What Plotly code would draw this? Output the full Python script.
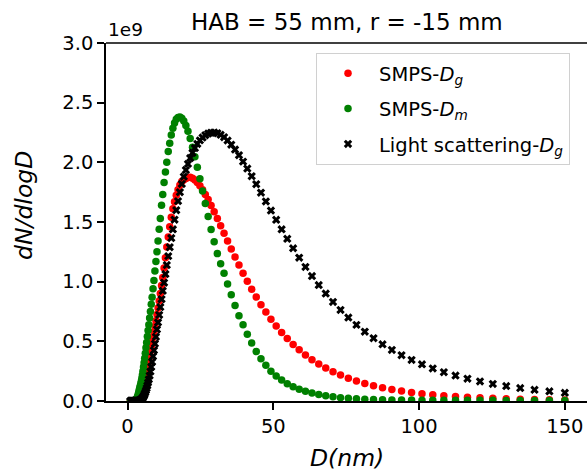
import plotly.graph_objects as go

# Particle diameter bins (nm), SMPS 64 channels/decade
D_NM = [1.01, 1.047, 1.086, 1.125, 1.167, 1.209, 1.254, 1.300, 1.347, 1.397,
        1.448, 1.501, 1.556, 1.613, 1.672, 1.733, 1.796, 1.862, 1.930, 2.001,
        2.074, 2.150, 2.229, 2.311, 2.395, 2.483, 2.574, 2.668, 2.766, 2.867,
        2.972, 3.081, 3.194, 3.311, 3.432, 3.558, 3.688, 3.823, 3.963, 4.109,
        4.259, 4.415, 4.577, 4.745, 4.919, 5.098, 5.285, 5.479, 5.679, 5.887,
        6.103, 6.327, 6.559, 6.799, 7.048, 7.306, 7.574, 7.852, 8.139, 8.438,
        8.747, 9.067, 9.399, 9.743, 10.10, 10.47, 10.86, 11.25, 11.67, 12.09,
        12.54, 13.00, 13.47, 13.97, 14.48, 15.01, 15.56, 16.13, 16.72, 17.33,
        17.96, 18.62, 19.30, 20.01, 20.74, 21.50, 22.29, 23.11, 23.95, 24.83,
        25.74, 26.68, 27.66, 28.67, 29.72, 30.81, 31.94, 33.11, 34.32, 35.58,
        36.88, 38.23, 39.63, 41.09, 42.59, 44.15, 45.77, 47.45, 49.19, 50.99,
        52.86, 54.79, 56.80, 58.88, 61.03, 63.27, 65.59, 67.99, 70.48, 73.06,
        75.74, 78.52, 81.39, 84.38, 87.47, 90.67, 93.99, 97.43, 101.0, 104.7,
        108.5, 112.5, 116.6, 120.9, 125.3, 129.9, 134.7, 139.6, 144.7, 150.0]

# dN/dlogD values in units of 1e9
SMPS_DG = [0, 0, 0, 0, 0, 0, 0, 0, 0, 0,
           0, 0, 0, 0, 0, 0, 0, 0, 0, 0,
           0, 0, 0, 0, 0, 0, 0, 0.001, 0.002, 0.003,
           0.004, 0.006, 0.009, 0.012, 0.015, 0.021, 0.028, 0.034, 0.039, 0.046,
           0.055, 0.065, 0.076, 0.090, 0.104, 0.119, 0.136, 0.153, 0.171, 0.190,
           0.211, 0.236, 0.262, 0.288, 0.317, 0.350, 0.384, 0.420, 0.458, 0.497,
           0.537, 0.579, 0.626, 0.673, 0.725, 0.780, 0.839, 0.900, 0.967, 1.035,
           1.115, 1.200, 1.290, 1.375, 1.460, 1.540, 1.610, 1.670, 1.725, 1.770,
           1.810, 1.840, 1.855, 1.865, 1.872, 1.874, 1.866, 1.851, 1.830, 1.803,
           1.770, 1.731, 1.688, 1.639, 1.586, 1.529, 1.469, 1.406, 1.341, 1.274,
           1.207, 1.139, 1.071, 1.003, 0.936, 0.871, 0.807, 0.745, 0.686, 0.629,
           0.574, 0.523, 0.474, 0.429, 0.386, 0.346, 0.310, 0.276, 0.245, 0.217,
           0.191, 0.168, 0.147, 0.128, 0.111, 0.096, 0.083, 0.071, 0.061, 0.052,
           0.044, 0.037, 0.032, 0.027, 0.022, 0.019, 0.015, 0.013, 0.011, 0.009]

SMPS_DM = [0, 0, 0, 0, 0, 0, 0, 0, 0, 0,
           0, 0, 0, 0, 0, 0, 0, 0, 0, 0,
           0, 0, 0, 0, 0, 0, 0.001, 0.003, 0.005, 0.007,
           0.010, 0.015, 0.020, 0.027, 0.034, 0.045, 0.057, 0.070, 0.085, 0.100,
           0.115, 0.130, 0.147, 0.166, 0.190, 0.218, 0.250, 0.284, 0.320, 0.358,
           0.400, 0.446, 0.490, 0.540, 0.590, 0.640, 0.695, 0.750, 0.810, 0.870,
           0.940, 1.010, 1.090, 1.170, 1.250, 1.340, 1.440, 1.530, 1.640, 1.730,
           1.830, 1.920, 2.000, 2.090, 2.160, 2.230, 2.285, 2.330, 2.360, 2.375,
           2.380, 2.369, 2.346, 2.309, 2.260, 2.199, 2.127, 2.046, 1.958, 1.862,
           1.760, 1.654, 1.546, 1.437, 1.335, 1.235, 1.150, 1.070, 0.980, 0.890,
           0.800, 0.715, 0.640, 0.560, 0.485, 0.415, 0.355, 0.300, 0.250, 0.210,
           0.175, 0.145, 0.120, 0.099, 0.082, 0.067, 0.054, 0.044, 0.035, 0.028,
           0.022, 0.018, 0.015, 0.012, 0.010, 0.009, 0.008, 0.008, 0.007, 0.007,
           0.007, 0.006, 0.006, 0.006, 0.006, 0.005, 0.005, 0.005, 0.005, 0.005]

LS_DG = [0, 0, 0, 0, 0, 0, 0, 0, 0, 0,
         0, 0, 0, 0, 0, 0, 0, 0, 0, 0,
         0, 0, 0, 0, 0, 0, 0, 0, 0, 0,
         0, 0, 0, 0, 0, 0, 0.001, 0.002, 0.003, 0.004,
         0.006, 0.008, 0.010, 0.014, 0.018, 0.023, 0.030, 0.038, 0.048, 0.059,
         0.073, 0.089, 0.107, 0.129, 0.154, 0.181, 0.212, 0.247, 0.285, 0.327,
         0.374, 0.425, 0.480, 0.538, 0.600, 0.658, 0.721, 0.787, 0.853, 0.923,
         0.991, 1.064, 1.139, 1.214, 1.289, 1.365, 1.439, 1.519, 1.599, 1.675,
         1.750, 1.819, 1.880, 1.935, 1.987, 2.036, 2.080, 2.120, 2.154, 2.184,
         2.208, 2.227, 2.241, 2.248, 2.250, 2.244, 2.231, 2.211, 2.183, 2.148,
         2.107, 2.060, 2.006, 1.948, 1.884, 1.817, 1.746, 1.672, 1.596, 1.518,
         1.439, 1.359, 1.280, 1.201, 1.123, 1.047, 0.972, 0.900, 0.830, 0.763,
         0.699, 0.638, 0.581, 0.526, 0.475, 0.428, 0.384, 0.344, 0.307, 0.273,
         0.241, 0.213, 0.187, 0.164, 0.143, 0.125, 0.108, 0.094, 0.081, 0.069]

X_TICKS = [0, 50, 100, 150]
Y_TICKS = [0.0, 0.5, 1.0, 1.5, 2.0, 2.5, 3.0]
Y_TICK_TEXT = ["0.0", "0.5", "1.0", "1.5", "2.0", "2.5", "3.0"]

FONT = "DejaVu Sans"

fig = go.Figure()
series = [
    ("SMPS-<i>D<sub>g</sub></i>", SMPS_DG, "#ff0000", "circle", 7.5),
    ("SMPS-<i>D<sub>m</sub></i>", SMPS_DM, "#008000", "circle", 7.5),
    ("Light scattering-<i>D<sub>g</sub></i>", LS_DG, "#000000", "x", 7.5),
]
for i, (name, vals, color, sym, size) in enumerate(series):
    fig.add_trace(go.Scatter(
        x=D_NM, y=vals, mode="markers", name=name, legendgroup=f"g{i}",
        marker=dict(color=color, symbol=sym, size=size, line=dict(width=0)),
    ))

axis_common = dict(
    showgrid=False, zeroline=False, showline=True, linecolor="black", linewidth=1.5,
    ticks="outside", ticklen=7, tickwidth=1.5, tickcolor="black",
    tickfont=dict(family=FONT, size=19.5, color="black"),
)
fig.update_layout(
    width=587, height=472,
    margin=dict(l=106, r=0, t=43, b=71),
    plot_bgcolor="white", paper_bgcolor="white",
    font=dict(family=FONT, color="black"),
    xaxis=dict(range=[-7.38, 157.6], tickvals=X_TICKS, **axis_common),
    yaxis=dict(range=[0, 3.0], tickvals=Y_TICKS, ticktext=Y_TICK_TEXT, **axis_common),
    showlegend=True,
    legend=dict(
        x=0.4366, y=0.972, xanchor="left", yanchor="top",
        bordercolor="#d0d0d0", borderwidth=1, bgcolor="white",
        font=dict(family=FONT, size=19.5, color="black"),
        traceorder="grouped", tracegroupgap=7, itemwidth=52,
    ),
    shapes=[dict(type="line", xref="paper", yref="paper", x0=0, x1=1, y0=1, y1=1,
                 line=dict(color="black", width=1.5))],
    annotations=[
        dict(text="HAB = 55 mm, r = -15 mm", xref="paper", yref="paper",
             x=0.501, y=1.0573, xanchor="center", yanchor="middle", showarrow=False,
             font=dict(family=FONT, size=23, color="black")),
        dict(text="1e9", xref="paper", yref="paper", x=0.0, y=1.0385,
             xanchor="left", yanchor="middle", showarrow=False,
             font=dict(family=FONT, size=18.5, color="black")),
        dict(text="<i>D(nm)</i>", xref="paper", yref="paper", x=0.501, y=-0.159,
             xanchor="center", yanchor="middle", showarrow=False,
             font=dict(family=FONT, size=23.5, color="black")),
        dict(text="<i>dN/dlogD</i>", xref="paper", yref="paper", x=-0.1705, y=0.5475,
             xanchor="center", yanchor="middle", showarrow=False, textangle=-90,
             font=dict(family=FONT, size=23.5, color="black")),
    ],
)

fig.write_html("out.html", config={"displayModeBar": False},
               post_script="document.body.style.margin='0px';")
